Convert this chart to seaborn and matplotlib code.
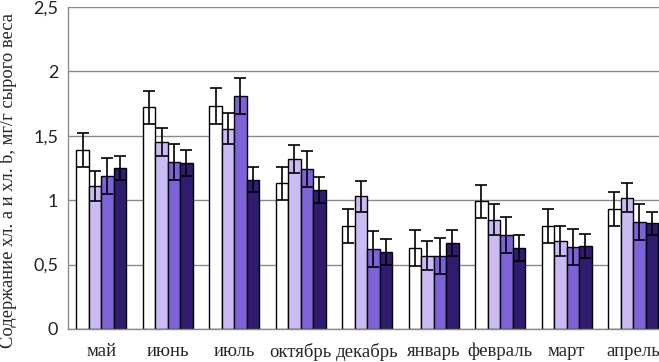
import matplotlib
matplotlib.use('Agg')
import matplotlib.pyplot as plt
import matplotlib.ticker as mticker
import seaborn as sns
import pandas as pd
import numpy as np

# Monate und Messwerte (4 Varianten je Monat)
months = ['май', 'июнь', 'июль', 'октябрь', 'декабрь', 'январь', 'февраль', 'март', 'апрель']
series = ['1', '2', '3', '4']

v1 = [1.39, 1.72, 1.73, 1.13, 0.80, 0.63, 0.99, 0.80, 0.93]
v2 = [1.11, 1.45, 1.555, 1.32, 1.03, 0.57, 0.85, 0.685, 1.02]
v3 = [1.19, 1.30, 1.81, 1.24, 0.62, 0.57, 0.73, 0.64, 0.83]
v4 = [1.25, 1.29, 1.16, 1.08, 0.60, 0.67, 0.63, 0.645, 0.82]

e1 = [0.135, 0.13, 0.14, 0.13, 0.13, 0.14, 0.13, 0.13, 0.13]
e2 = [0.12, 0.11, 0.12, 0.11, 0.12, 0.11, 0.12, 0.115, 0.11]
e3 = [0.14, 0.14, 0.14, 0.14, 0.14, 0.14, 0.14, 0.14, 0.14]
e4 = [0.09, 0.10, 0.10, 0.10, 0.10, 0.10, 0.10, 0.09, 0.09]

colors = ['#FFFFFF', '#CBBBF5', '#7D62D8', '#2F1C6E']

values = [v1, v2, v3, v4]
errors = [e1, e2, e3, e4]

df = pd.DataFrame({
    'month': months * 4,
    'serie': np.repeat(series, len(months)),
    'value': v1 + v2 + v3 + v4,
})

sns.set_style('white')

fig = plt.figure(figsize=(6.59, 3.62), dpi=100)
ax = fig.add_axes([0.1032, 0.0912, 0.908, 0.8895])

sns.barplot(data=df, x='month', y='value', hue='serie', order=months,
            hue_order=series, palette=colors, width=0.75, errorbar=None,
            edgecolor='black', linewidth=1.0, saturation=1, legend=False, ax=ax)

# Fehlerbalken
for cont, err in zip(ax.containers, errors):
    xs = [p.get_x() + p.get_width() / 2 for p in cont.patches]
    hs = [p.get_height() for p in cont.patches]
    ax.errorbar(xs, hs, yerr=err, fmt='none', ecolor='black', elinewidth=1.2,
                capsize=4.5, capthick=1.2, zorder=5)

ax.set_ylim(0, 2.5)
ax.set_xlim(-0.5, len(months) - 0.5)
ax.set_yticks([0, 0.5, 1, 1.5, 2, 2.5])
ax.yaxis.set_major_formatter(mticker.FuncFormatter(
    lambda v, p: ('%g' % v).replace('.', ',')))
ax.yaxis.grid(True, color='#8a8a8a', linewidth=1.0)
ax.set_axisbelow(True)

for s in ['top', 'right']:
    ax.spines[s].set_visible(False)
for s in ['left', 'bottom']:
    ax.spines[s].set_color('#8a8a8a')
    ax.spines[s].set_linewidth(1.0)

ax.set_xticks(np.arange(-0.5, len(months), 1), minor=True)
ax.tick_params(axis='x', which='major', length=0, pad=10)
ax.tick_params(axis='x', which='minor', length=4, color='#8a8a8a', direction='out')
ax.tick_params(axis='y', length=4, color='#8a8a8a', direction='out', pad=3)
ax.set_xticks(range(len(months)))
ax.set_xticklabels(months, family='Liberation Serif', fontsize=13.5)
for lab in ax.get_yticklabels():
    lab.set_family('Lato')
    lab.set_fontsize(13)
    lab.set_color('#222222')

ax.set_xlabel('')
ax.set_ylabel('Содержание хл. а и хл. b, мг/г сырого веса', family='Liberation Serif',
              fontsize=13.3, labelpad=7)
ax.yaxis.set_label_coords(-0.085, 0.46)

fig.savefig('out.png', dpi=100)
